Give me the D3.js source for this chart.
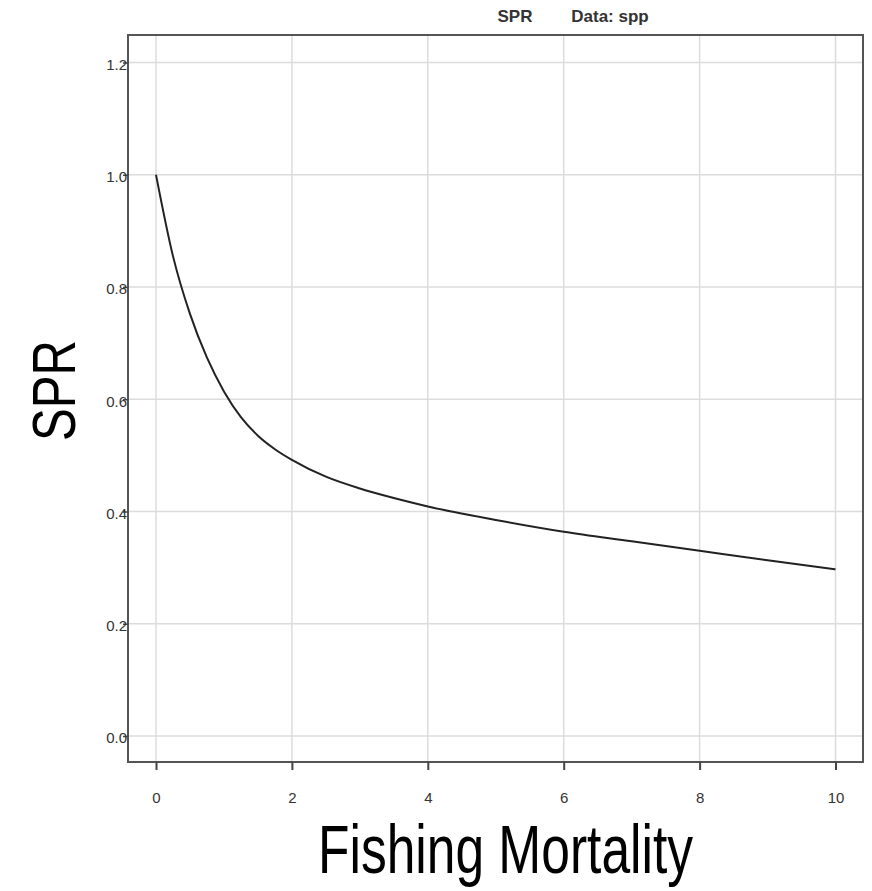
<!DOCTYPE html>
<html><head><meta charset="utf-8">
<script src="https://cdn.jsdelivr.net/npm/d3@7/dist/d3.min.js"></script>
<style>body{margin:0;background:#fff}</style>
</head><body>
<svg id="c" width="872" height="891"></svg>
<script>
const fishingMortality = [0,0.25,0.5,0.75,1,1.25,1.5,1.75,2,2.5,3,3.5,4,5,6,7,8,9,10];
const sprValues = [1.0,0.855,0.752,0.674,0.614,0.568,0.535,0.511,0.492,0.462,0.441,0.424,0.409,0.385,0.364,0.347,0.330,0.313,0.297];
const xTicks = [0,2,4,6,8,10];
const yTicks = [0.0,0.2,0.4,0.6,0.8,1.0,1.2];
const titleMain = "SPR", titleData = "Data: spp";
const xLabel = "Fishing Mortality", yLabel = "SPR";

const svg = d3.select("#c");
const L=128,R=863,T=35,B=762;
const x = d3.scaleLinear().domain([0,10]).range([156,835.5]);
const y = d3.scaleLinear().domain([0,1.2]).range([736,62.5]);
const FONT = "Liberation Sans, Arial, sans-serif";

const g = svg.append("g");
// grid
g.selectAll(".gx").data(xTicks).enter().append("line")
 .attr("x1",d=>x(d)).attr("x2",d=>x(d)).attr("y1",T).attr("y2",B)
 .attr("stroke","#dcdcdc").attr("stroke-width",1.5);
g.selectAll(".gy").data(yTicks).enter().append("line")
 .attr("y1",d=>y(d)).attr("y2",d=>y(d)).attr("x1",L).attr("x2",R)
 .attr("stroke","#dcdcdc").attr("stroke-width",1.5);

// line
const line = d3.line().x((d,i)=>x(fishingMortality[i])).y(d=>y(d)).curve(d3.curveMonotoneX);
g.append("path").datum(sprValues).attr("d",line).attr("fill","none")
 .attr("stroke","#222").attr("stroke-width",2);

// frame
g.append("rect").attr("x",L).attr("y",T).attr("width",R-L).attr("height",B-T)
 .attr("fill","none").attr("stroke","#555").attr("stroke-width",2);

// x axis
const xa = d3.axisBottom(x).tickValues(xTicks).tickSize(8).tickPadding(22).tickFormat(d3.format("d"));
const gx = svg.append("g").attr("transform",`translate(0,${B})`).call(xa);
gx.select(".domain").remove();
gx.selectAll(".tick line").attr("stroke","#444").attr("stroke-width",2);
gx.selectAll("text").attr("font-family",FONT).attr("font-size",15).attr("fill","#333");

// y axis
const ya = d3.axisLeft(y).tickValues(yTicks).tickSize(5).tickPadding(-4).tickFormat(d3.format(".1f"));
const gy = svg.append("g").attr("transform",`translate(${L},0)`).call(ya);
gy.select(".domain").remove();
gy.selectAll(".tick line").attr("stroke","#444").attr("stroke-width",1.5);
gy.selectAll("text").attr("font-family",FONT).attr("font-size",15).attr("fill","#333").attr("dy","0.45em");

// titles
svg.append("text").attr("x",515).attr("y",22).attr("text-anchor","middle")
 .attr("font-family",FONT).attr("font-weight","bold").attr("font-size",17).attr("fill","#333").text(titleMain);
svg.append("text").attr("x",610).attr("y",22).attr("text-anchor","middle")
 .attr("font-family",FONT).attr("font-weight","bold").attr("font-size",17).attr("fill","#333").text(titleData);

svg.append("text").attr("x",318).attr("y",873)
 .attr("font-family","Liberation Sans Narrow, Liberation Sans, Arial, sans-serif").attr("font-size",68)
 .attr("textLength",375).attr("lengthAdjust","spacingAndGlyphs").attr("fill","#000").text(xLabel);
svg.append("text").attr("transform","translate(75,441) rotate(-90)")
 .attr("font-family","Liberation Sans Narrow, Liberation Sans, Arial, sans-serif").attr("font-size",62)
 .attr("textLength",101).attr("lengthAdjust","spacingAndGlyphs").attr("fill","#000").text(yLabel);
</script>
</body></html>
